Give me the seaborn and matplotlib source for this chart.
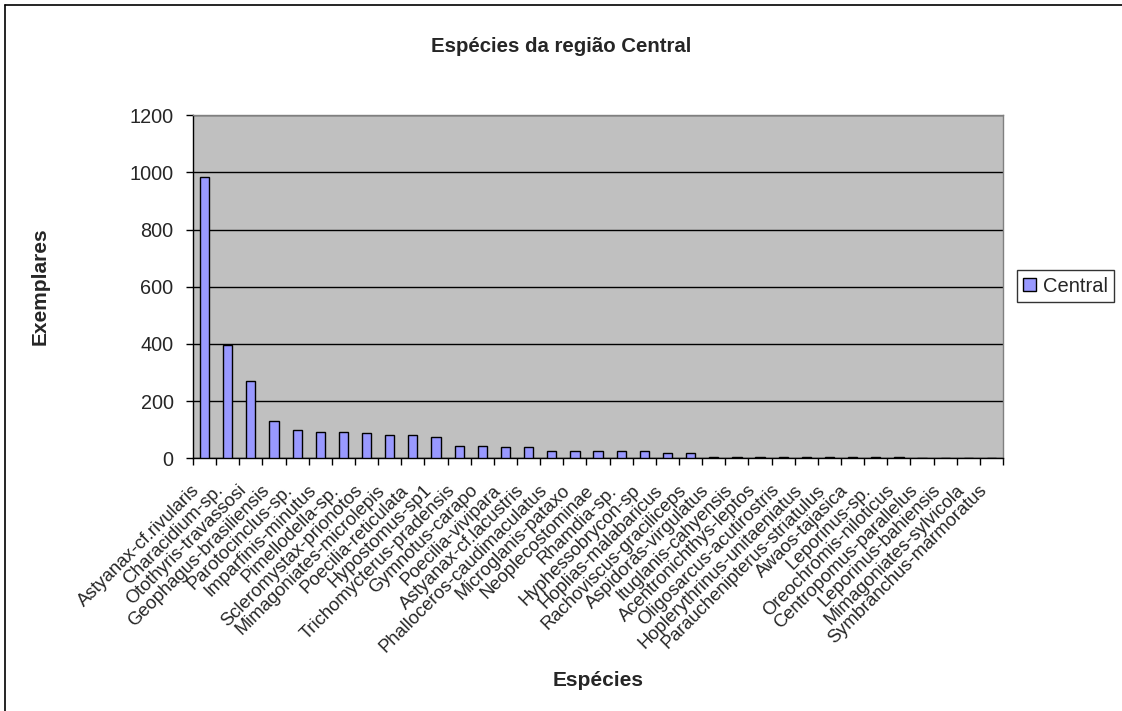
import matplotlib
matplotlib.use("Agg")
import matplotlib.pyplot as plt
import matplotlib.transforms as mtransforms
from matplotlib.patches import Patch
from matplotlib.lines import Line2D
import seaborn as sns
import pandas as pd

species = [
    "Astyanax-cf.rivularis", "Characidium-sp.", "Otothyris-travassosi",
    "Geophagus-brasiliensis", "Parotocinclus-sp.", "Imparfinis-minutus",
    "Pimellodella-sp.", "Scleromystax-prionotos", "Mimagoniates-microlepis",
    "Poecilia-reticulata", "Hypostomus-sp1", "Trichomycterus-pradensis",
    "Gymnotus-carapo", "Poecilia-vivipara", "Astyanax-cf.lacustris",
    "Phalloceros-caudimaculatus", "Microglanis-pataxo", "Neoplecostominae",
    "Rhamdia-sp.", "Hyphessobrycon-sp", "Hoplias-malabaricus",
    "Rachoviscus-graciliceps", "Aspidoras-virgulatus", "Ituglanis-cahyensis",
    "Acentronichthys-leptos", "Oligosarcus-acutirostris",
    "Hoplerythrinus-unitaeniatus", "Parauchenipterus-striatulus",
    "Awaos-tajasica", "Leporinus-sp.", "Oreochromis-niloticus",
    "Centropomus-parallelus", "Leporinus-bahiensis", "Mimagoniates-sylvicola",
    "Symbranchus-marmoratus",
]
central = [983, 395, 271, 129, 99, 91, 91, 88, 82, 82, 76, 42, 42, 39, 39,
           25, 25, 25, 25, 25, 19, 19, 4, 4, 4, 4, 4, 4, 4, 4, 4, 0, 0, 0, 0]
y_ticks = [0, 200, 400, 600, 800, 1000, 1200]

sns.set_theme(style="white")
plt.rcParams["font.family"] = ["Liberation Sans", "DejaVu Sans"]

df = pd.DataFrame({"Espécies": species, "Exemplares": central})

fig = plt.figure(figsize=(11.22, 7.11), dpi=100)
ax = fig.add_axes([0.172, 0.3554, 0.722, 0.4826])
ax.set_facecolor("#C0C0C0")

sns.barplot(data=df, x="Espécies", y="Exemplares", color="#9999FF",
            saturation=1, edgecolor="black", linewidth=1.0, width=0.4,
            ax=ax, zorder=3)

ax.set_xlim(-0.5, len(species) - 0.5)
ax.set_ylim(0, 1200)
ax.set_yticks(y_ticks)
ax.set_yticklabels([str(v) for v in y_ticks], fontsize=14.3)
ax.yaxis.grid(True, color="black", linewidth=1.0, zorder=1)
ax.set_axisbelow(True)

# category labels at bar centers, ticks at category boundaries
ax.set_xticks(range(len(species)))
ax.set_xticklabels(species, rotation=45, ha="right", va="top",
                   rotation_mode="anchor", fontsize=13.2)
ax.tick_params(axis="x", which="major", length=0, pad=17)
ax.set_xticks([i - 0.5 for i in range(len(species) + 1)], minor=True)
ax.tick_params(axis="x", which="minor", length=5, width=1, color="black",
               direction="out", bottom=True)
ax.tick_params(axis="y", length=5, width=1, color="black", direction="out",
               left=True, pad=9)
offset = mtransforms.ScaledTranslation(-13 / 100, 0, fig.dpi_scale_trans)
for lbl in ax.get_xticklabels():
    lbl.set_transform(lbl.get_transform() + offset)

for side in ["left", "bottom"]:
    ax.spines[side].set_color("black")
    ax.spines[side].set_linewidth(1.0)
for side in ["top", "right"]:
    ax.spines[side].set_color("#808080")
    ax.spines[side].set_linewidth(1.0)

ax.set_xlabel("")
ax.set_ylabel("")

fig.text(0.5, 1 - 47 / 711, "Espécies da região Central", ha="center",
         va="center", fontsize=14.7, fontweight="bold")
fig.text(598 / 1122, 1 - 681 / 711, "Espécies", ha="center", va="center",
         fontsize=15, fontweight="bold")
fig.text(40 / 1122, 1 - 286 / 711, "Exemplares", ha="center", va="center",
         rotation=90, fontsize=15, fontweight="bold")

handle = Patch(facecolor="#9999FF", edgecolor="black", linewidth=1.0,
               label="Central")
leg = fig.legend(handles=[handle], loc="center left",
                 bbox_to_anchor=(1017 / 1122, 1 - 286 / 711),
                 fancybox=False, frameon=True, edgecolor="black",
                 fontsize=14.5, handlelength=0.65, handleheight=0.65,
                 handletextpad=0.35, borderpad=0.3, borderaxespad=0)
leg.get_frame().set_linewidth(1.0)

# outer chart frame (left and top edges visible)
fig.add_artist(Line2D([5 / 1122, 5 / 1122], [0, 1 - 5 / 711],
                      transform=fig.transFigure, color="black", lw=1.2))
fig.add_artist(Line2D([5 / 1122, 1], [1 - 5 / 711, 1 - 5 / 711],
                      transform=fig.transFigure, color="black", lw=1.2))

fig.savefig("out.png", dpi=100, facecolor="white")
